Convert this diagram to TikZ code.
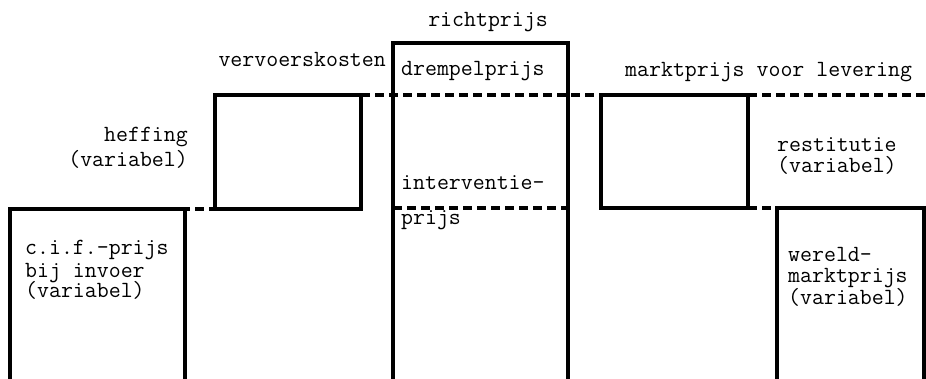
\documentclass[tikz,border=0pt]{standalone}
\usepackage{fontspec}

\begin{document}
\begin{tikzpicture}[x=1pt,y=-1pt,
    lbl/.style = {font=\ttfamily\fontsize{23.2}{25}\selectfont, inner sep=0pt},
    bar/.style = {line width=3.2pt},
    box/.style = {draw, line width=3.2pt, inner sep=0pt, outer sep=0pt, anchor=north west},
    level/.style = {line width=3.2pt, dash pattern=on 9pt off 5pt}]
    \useasboundingbox (0,0) rectangle (926,379);

    % prijsniveaus
    \coordinate (cif ne) at (185,209);
    \coordinate (interv w) at (393,208);
    \coordinate (interv e) at (568,208);
    \coordinate (rand) at (926,95);

    % blokken
    \draw[bar] (10,384) |- (cif ne) -- (185,384);
    \node (heffing) [box, minimum width=146pt, minimum height=114pt] at (215,95) {};
    \draw[bar] (393,384) |- (568,43) -- (568,384);
    \node (markt) [box, minimum width=147pt, minimum height=113pt] at (601,95) {};
    \draw[bar] (777,384) |- (924,208) -- (924,384);
    \coordinate (wereld nw) at (777,208);

    % stippellijnen
    \path (heffing.north east) edge[level] (markt.north west);
    \path (markt.north east) edge[level] (rand);
    \path (cif ne) edge[level, dash phase=-10pt] (heffing.south west);
    \path (interv w) edge[level] (interv e);
    \path (markt.south east) edge[level] (wereld nw);

    % teksten
    \node (richtprijs) [lbl, anchor=base] at (488,27) {richtprijs};
    \node (vervoer) [lbl, anchor=base east] at (386,67) {vervoerskosten};
    \node (drempel) [lbl, anchor=base west] at (401,76) {drempelprijs};
    \node (levering) [lbl, anchor=base west] at (625,77) {marktprijs voor levering};
    \node (heffingtxt) [lbl, anchor=base east] at (188,142) {heffing};
    \node (heffingvar) [lbl, anchor=base east] at (188,167) {(variabel)};
    \node (interv1) [lbl, anchor=base west] at (401,190) {interventie-};
    \node (interv2) [lbl, anchor=base west] at (401,225) {prijs};
    \node (restitutie) [lbl, anchor=base west] at (777,152) {restitutie};
    \node (restvar) [lbl, anchor=base west] at (777,173) {(variabel)};
    \node (cif1) [lbl, anchor=base west] at (25,255) {c.i.f.-prijs};
    \node (cif2) [lbl, anchor=base west] at (25,277) {bij invoer};
    \node (cif3) [lbl, anchor=base west] at (25,298) {(variabel)};
    \node (wereld1) [lbl, anchor=base west] at (788,262) {wereld-};
    \node (wereld2) [lbl, anchor=base west] at (788,283) {marktprijs};
    \node (wereld3) [lbl, anchor=base west] at (788,305) {(variabel)};
\end{tikzpicture}
\end{document}
